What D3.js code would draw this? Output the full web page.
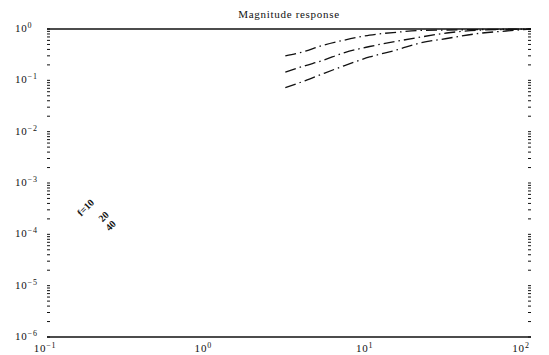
<!DOCTYPE html>
<html>
<head>
<meta charset="utf-8">
<script src="https://cdn.jsdelivr.net/npm/d3@7"></script>
<style>
  body { margin: 0; background: #fff; }
  svg { display: block; }
</style>
</head>
<body>
<div id="chart"></div>
<script>
var freqs = [3, 4, 5, 7, 10, 15, 20, 30, 50, 70, 100]
// three magnitude responses (top, middle, bottom)
var magA = [0.30, 0.37, 0.47, 0.61, 0.76, 0.87, 0.935, 0.956, 0.978, 0.99, 1.0]
var magB = [0.145, 0.194, 0.238, 0.348, 0.456, 0.583, 0.683, 0.836, 0.956, 0.978, 1.0]
var magC = [0.072, 0.099, 0.130, 0.194, 0.285, 0.398, 0.522, 0.653, 0.836, 0.914, 1.0]
var xTickExp = [-1, 0, 1, 2]
var yTickExp = [0, -1, -2, -3, -4, -5, -6]
var annotations = ["f=10", "20", "40"]

width = 549
height = 355
// note: "top" is reserved on window, so use plotTop etc.
var plotLeft = 47, plotRight = 531, plotTop = 29, plotBottom = 337

var x = d3.scaleLog().domain([0.1, 100]).range([plotLeft, plotRight])
var y = d3.scaleLog().domain([1e-6, 1]).range([plotBottom, plotTop])

const svg = d3.select('#chart')
    .append('svg')
    .attr("width", width)
    .attr("height", height)
    .style("font-family", "'Liberation Serif', 'DejaVu Serif', serif")

// title
svg.append("text")
    .attr("x", (plotLeft + plotRight) / 2)
    .attr("y", 18)
    .attr("text-anchor", "middle")
    .attr("font-size", 11)
    .attr("letter-spacing", 0.7)
    .attr("fill", "#111")
    .text("Magnitude response")

// top and bottom frame lines
svg.append("line")
    .attr("x1", plotLeft).attr("x2", plotRight)
    .attr("y1", y(1)).attr("y2", y(1))
    .attr("stroke", "#111").attr("stroke-width", 1.6)
svg.append("line")
    .attr("x1", plotLeft).attr("x2", plotRight)
    .attr("y1", y(1e-6)).attr("y2", y(1e-6))
    .attr("stroke", "#111").attr("stroke-width", 1.6)

// minor/major ticks on left and right, drawn inward
var yTicks = []
for (var e = -6; e < 0; e++) {
    for (var m = 1; m < 10; m++) yTicks.push(m * Math.pow(10, e))
}
yTicks.push(1)

var tickG = svg.append("g").attr("stroke", "#111").attr("stroke-width", 1)
tickG.selectAll("line.l")
    .data(yTicks)
    .enter().append("line")
    .attr("class", "l")
    .attr("x1", plotLeft).attr("x2", plotLeft + 3)
    .attr("y1", d => y(d)).attr("y2", d => y(d))
tickG.selectAll("line.r")
    .data(yTicks)
    .enter().append("line")
    .attr("class", "r")
    .attr("x1", plotRight - 3).attr("x2", plotRight)
    .attr("y1", d => y(d)).attr("y2", d => y(d))

// y tick labels
const yl = svg.append("g")
    .selectAll("text")
    .data(yTickExp)
    .enter().append("text")
    .attr("x", 15)
    .attr("y", d => y(Math.pow(10, d)) + 3)
    .attr("font-size", 11)
    .attr("letter-spacing", 0.8)
    .attr("fill", "#111")
yl.append("tspan").text("10")
yl.append("tspan")
    .attr("dy", -4)
    .attr("font-size", 8)
    .text(d => d === 0 ? "0" : "\u2212" + Math.abs(d))

// x tick labels
const xl = svg.append("g")
    .selectAll("text")
    .data(xTickExp)
    .enter().append("text")
    .attr("x", d => x(Math.pow(10, d)) - (d === 2 ? 10 : d === -1 ? 2 : 5))
    .attr("y", 352)
    .attr("text-anchor", "middle")
    .attr("font-size", 11)
    .attr("letter-spacing", 0.8)
    .attr("fill", "#111")
xl.append("tspan").text("10")
xl.append("tspan")
    .attr("dy", -4)
    .attr("font-size", 8)
    .text(d => d < 0 ? "\u2212" + Math.abs(d) : d)

// curves
var line = d3.line()
    .x((d, i) => x(freqs[i]))
    .y(d => y(d))
    .curve(d3.curveMonotoneX)

svg.append("g")
    .selectAll("path")
    .data([magA, magB, magC])
    .enter().append("path")
    .attr("d", line)
    .attr("fill", "none")
    .attr("stroke", "#111")
    .attr("stroke-width", 1.3)
    .attr("stroke-dasharray", "11,4,1.5,4")

// rotated curve labels
var annPos = [[88, 210], [106, 219], [113, 228]]
svg.append("g")
    .selectAll("text")
    .data(annotations)
    .enter().append("text")
    .attr("transform", (d, i) => `translate(${annPos[i][0]},${annPos[i][1]}) rotate(-45)`)
    .attr("text-anchor", "middle")
    .attr("font-size", 10)
    .attr("font-weight", "bold")
    .attr("fill", "#111")
    .text(d => d)
</script>
</body>
</html>
